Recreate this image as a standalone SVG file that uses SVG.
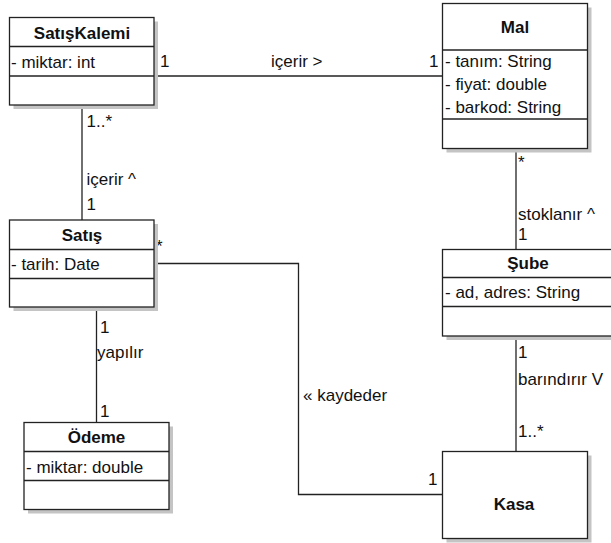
<svg xmlns="http://www.w3.org/2000/svg" width="611" height="543" viewBox="0 0 611 543">
<style>
.box{fill:#fff;stroke:#222;stroke-width:1.3}
.sh{fill:#c4c4c4}
.dv{stroke:#222;stroke-width:1.3}
.ln{fill:none;stroke:#222;stroke-width:1.3}
text{font-family:"Liberation Sans",Arial,sans-serif;font-size:17px;fill:#111}
.t{font-weight:bold;text-anchor:middle}
</style>
<rect width="611" height="543" fill="#fff"/>
<g id="connectors">
<line class="ln" x1="154" y1="76" x2="442.5" y2="76"/>
<line class="ln" x1="82" y1="105" x2="82" y2="220"/>
<line class="ln" x1="516" y1="148.5" x2="516" y2="249.5"/>
<line class="ln" x1="96.5" y1="307" x2="96.5" y2="422.5"/>
<line class="ln" x1="516" y1="336" x2="516" y2="451.5"/>
<polyline class="ln" points="154,263.5 298.5,263.5 298.5,494.5 442.5,494.5"/>
<text x="160" y="67">1</text>
<text x="271" y="67">içerir &gt;</text>
<text x="429" y="67">1</text>
<text x="86.5" y="127">1..*</text>
<text x="86.5" y="185">içerir ^</text>
<text x="86.5" y="210">1</text>
<text x="518" y="168">*</text>
<text x="518" y="220">stoklanır ^</text>
<text x="518" y="240">1</text>
<text x="518" y="358">1</text>
<text x="518" y="385">barındırır V</text>
<text x="518" y="437">1..*</text>
<text x="100" y="333">1</text>
<text x="97" y="358">yapılır</text>
<text x="100" y="417">1</text>
<text x="156" y="252">*</text>
<text x="303" y="401">« kaydeder</text>
<text x="428" y="485">1</text>
</g>
<g id="SatisKalemi">
<rect class="sh" x="13.5" y="21.5" width="144.5" height="87.5"/>
<rect class="box" x="9.5" y="17.5" width="144.5" height="87.5"/>
<line class="dv" x1="9.5" y1="46.5" x2="154" y2="46.5"/>
<line class="dv" x1="9.5" y1="76" x2="154" y2="76"/>
<text class="t" x="82" y="39">SatışKalemi</text>
<text x="11" y="68">- miktar: int</text>
</g>
<g id="Mal">
<rect class="sh" x="446.5" y="7.5" width="145" height="145"/>
<rect class="box" x="442.5" y="3.5" width="145" height="145"/>
<line class="dv" x1="442.5" y1="50" x2="587.5" y2="50"/>
<line class="dv" x1="442.5" y1="119" x2="587.5" y2="119"/>
<text class="t" x="515" y="33">Mal</text>
<text x="445" y="67">- tanım: String</text>
<text x="445" y="90">- fiyat: double</text>
<text x="445" y="113">- barkod: String</text>
</g>
<g id="Satis">
<rect class="sh" x="13.5" y="224" width="144.5" height="87"/>
<rect class="box" x="9.5" y="220" width="144.5" height="87"/>
<line class="dv" x1="9.5" y1="249.5" x2="154" y2="249.5"/>
<line class="dv" x1="9.5" y1="278.5" x2="154" y2="278.5"/>
<text class="t" x="82" y="241">Satış</text>
<text x="11" y="270">- tarih: Date</text>
</g>
<g id="Sube">
<rect class="sh" x="446.5" y="253.5" width="170" height="86.5"/>
<rect class="box" x="442.5" y="249.5" width="170" height="86.5"/>
<line class="dv" x1="442.5" y1="277.5" x2="611" y2="277.5"/>
<line class="dv" x1="442.5" y1="306.5" x2="611" y2="306.5"/>
<text class="t" x="528" y="269">Şube</text>
<text x="445" y="298">- ad, adres: String</text>
</g>
<g id="Odeme">
<rect class="sh" x="28" y="426.5" width="145" height="87"/>
<rect class="box" x="24" y="422.5" width="145" height="87"/>
<line class="dv" x1="24" y1="451.5" x2="169" y2="451.5"/>
<line class="dv" x1="24" y1="480.5" x2="169" y2="480.5"/>
<text class="t" x="96.5" y="443">Ödeme</text>
<text x="26" y="472.5">- miktar: double</text>
</g>
<g id="Kasa">
<rect class="sh" x="446.5" y="455.5" width="145" height="87"/>
<rect class="box" x="442.5" y="451.5" width="145" height="87"/>
<text class="t" x="514" y="510">Kasa</text>
</g>
</svg>
